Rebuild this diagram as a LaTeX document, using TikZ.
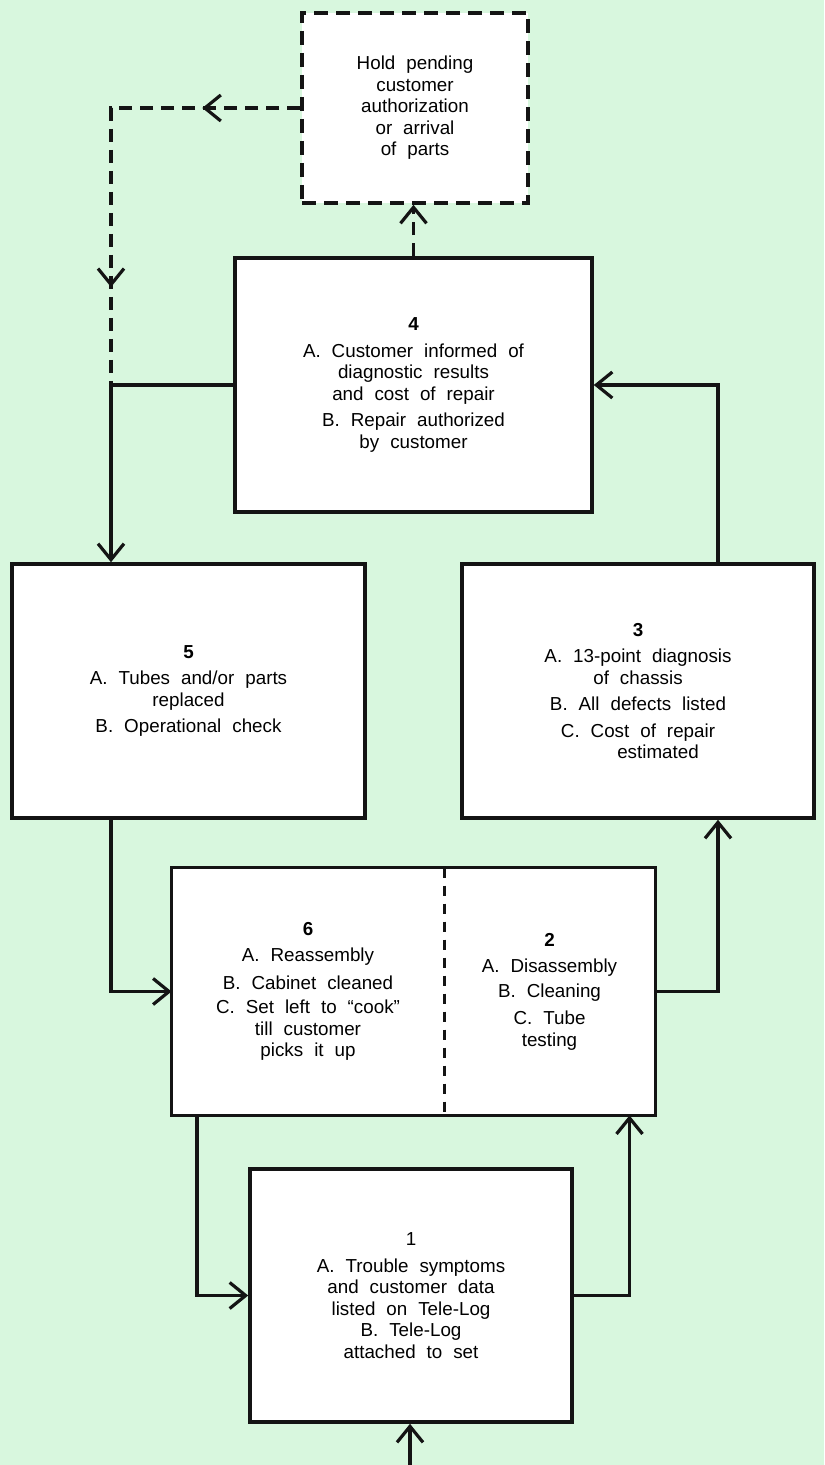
\documentclass[tikz,border=0pt]{standalone}
\usepackage{fontspec}
\setmainfont{Liberation Sans}[WordSpace=2.1]
\usepackage{tikz}
\usetikzlibrary{arrows.meta, decorations.markings}
\definecolor{shopPaper}{HTML}{D8F7DE}
\definecolor{shopInk}{HTML}{141414}

\begin{document}
\begin{tikzpicture}[
  x=0.5pt, y=-0.5pt,
  font=\fontsize{9.4}{10.75}\selectfont,
  >={Straight Barb[length=8pt,width=13pt]},
  blk/.style={draw=shopInk, line width=1.8pt, fill=white, align=center, inner sep=2pt},
  holdbox/.style={blk, dash pattern=on 7pt off 4pt},
  half/.style={fill=white, align=center, inner sep=2pt, minimum height=123.5pt},
  flow/.style={->, draw=shopInk, line width=1.6pt},
  pend/.style={flow, dash pattern=on 6.5pt off 4pt},
  midtips/.style={postaction={decorate}, decoration={markings,
      mark=at position 0.21 with {\arrow{>}},
      mark=at position 0.79 with {\arrow{>}}}},
]
\path[use as bounding box, fill=shopPaper] (0,0) rectangle (824,1465);

\node[holdbox, minimum width=113pt, minimum height=95pt] (hold) at (415,108)
  {Hold pending\\ customer\\ authorization\\ or arrival\\ of parts};
\node[blk, minimum width=178.5pt, minimum height=127pt] (box4) at (413.5,385)
  {\textbf{4}\\[2.5pt] A. Customer informed of\\ diagnostic results\\ and cost of repair\\[2.5pt]
   B. Repair authorized\\ by customer};
\node[blk, minimum width=176.5pt, minimum height=127pt] (box5) at (188.5,691)
  {\textbf{5}\\[2.5pt] A. Tubes and/or parts\\ replaced\\[2.5pt] B. Operational check};
\node[blk, minimum width=176pt, minimum height=127pt] (box3) at (638,691)
  {\textbf{3}\\[2.5pt] A. 13-point diagnosis\\ of chassis\\[2.5pt] B. All defects listed\\[2.5pt]
   C. Cost of repair\\ \hspace*{20pt}estimated};
\node[half, minimum width=136pt] (box6) at (308,991.5)
  {\textbf{6}\\[2.5pt] A. Reassembly\\[3pt] B. Cabinet cleaned\\[1.5pt] C. Set left to ``cook''\\
   till customer\\ picks it up};
\node[half, minimum width=105.5pt] (box2) at (549.5,991.5)
  {\textbf{2}\\[2.5pt] A. Disassembly\\[1.5pt] B. Cleaning\\[3pt] C. Tube\\ testing};
\draw[draw=shopInk, line width=1.8pt] (box6.north west) rectangle (box2.south east);
\draw[draw=shopInk, line width=1.4pt, dash pattern=on 5pt off 4pt] (box6.north east) -- (box6.south east);
\node[blk, minimum width=161pt, minimum height=126.5pt] (box1) at (411,1295.5)
  {1\\[2.5pt] A. Trouble symptoms\\ and customer data\\ listed on Tele-Log\\
   B. Tele-Log\hspace*{8pt}\\ attached to set};

\coordinate (src) at (410,1465);
\coordinate (bend) at (111,108);
\coordinate (join) at (bend |- box4.west);

\draw[flow] (src) -- (src |- box1.south);
\draw[flow] (box1.east) -| ([xshift=40pt]box2.south);
\draw[flow] (box2.east) -| ([xshift=40pt]box3.south);
\draw[flow] ([xshift=40pt]box3.north) |- (box4.east);
\draw[pend] (box4.north) -- (box4.north |- hold.south);
\draw[pend, -, midtips] (hold.west) -- (bend) -- (join);
\draw[flow] (box4.west) -- (join) -- (join |- box5.north);
\draw[flow] (join |- box5.south) |- (box6.west);
\draw[flow] ([xshift=-55.5pt]box6.south) |- (box1.west);
\end{tikzpicture}
\end{document}
